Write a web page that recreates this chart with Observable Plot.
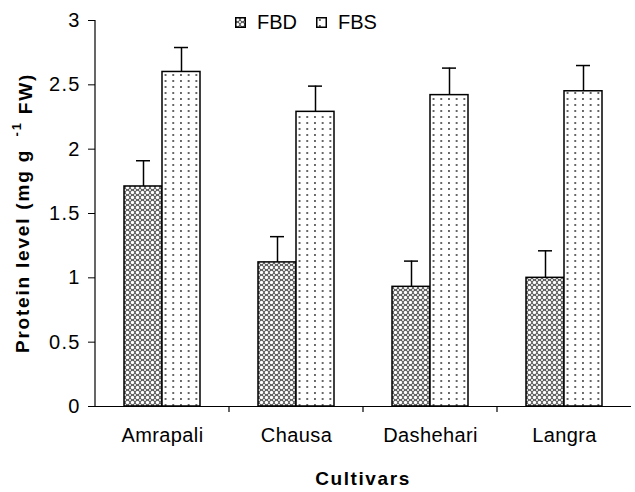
<!DOCTYPE html>
<html><head><meta charset="utf-8">
<script src="https://cdn.jsdelivr.net/npm/d3@7"></script>
<script src="https://cdn.jsdelivr.net/npm/@observablehq/plot@0.6"></script>
<style>
body{margin:0;background:#fff;}
#wrap{position:relative;width:635px;height:492px;font-family:"Liberation Sans",Arial,sans-serif;}
#legend{position:absolute;top:11px;left:235px;display:flex;align-items:center;font-size:20px;color:#000;}
#legend .item{display:flex;align-items:center;margin-right:19px;}
#legend svg{margin-right:11px;}
</style></head><body><div id="wrap"><div id="legend"></div></div>
<script>
const cultivars = ["Amrapali", "Chausa", "Dashehari", "Langra"];
const series = ["FBD", "FBS"];
const fbdValues = [1.71, 1.12, 0.93, 1.00];
const fbsValues = [2.60, 2.29, 2.42, 2.45];
const fbdErrors = [0.20, 0.20, 0.20, 0.21];
const fbsErrors = [0.19, 0.20, 0.21, 0.20];
const yTicks = [0, 0.5, 1, 1.5, 2, 2.5, 3];

const patterns = ["url(#pat-fbd)", "url(#pat-fbs)"];

const data = cultivars.flatMap((c, i) => [
  {cultivar: c, series: "FBD", value: fbdValues[i], err: fbdErrors[i]},
  {cultivar: c, series: "FBS", value: fbsValues[i], err: fbsErrors[i]}
]);

const plot = Plot.plot({
  width: 635, height: 492,
  marginLeft: 95, marginRight: 4, marginTop: 20, marginBottom: 86,
  style: {fontFamily: "Liberation Sans, Arial, sans-serif", color: "#000", background: "#fff", overflow: "visible"},
  fx: {domain: cultivars, padding: 0, label: null},
  x: {domain: series, paddingInner: 0, paddingOuter: 0.74, axis: null},
  y: {domain: [0, 3], label: null, axis: null},
  color: {type: "ordinal", domain: series, range: patterns, legend: false},
  marks: [
    Plot.barY(data, {fx: "cultivar", x: "series", y: "value", fill: "series", stroke: "#000", strokeWidth: 1.5}),
    Plot.ruleX(data, {fx: "cultivar", x: "series", y1: "value", y2: d => d.value + d.err, stroke: "#000", strokeWidth: 1.5}),
    Plot.tickY(data, {fx: "cultivar", x: "series", y: d => d.value + d.err, insetLeft: 12, insetRight: 12, stroke: "#000", strokeWidth: 1.5}),
    Plot.ruleY([0], {stroke: "#000", strokeWidth: 1.2}),
    Plot.axisY({ticks: yTicks, tickFormat: d => String(d), tickSize: 7, tickPadding: 8, fontSize: 20, label: null}),
    Plot.axisFx({anchor: "bottom", tickSize: 0, tickPadding: 21, fontSize: 20, label: null})
  ]
});

const svg = d3.select(plot);
svg.selectAll("[aria-label='y-axis tick label'] text").attr("letter-spacing", "1.2px");
svg.selectAll("[aria-label='fx-axis tick label'] text").attr("letter-spacing", "0.4px");

const defs = svg.insert("defs", ":first-child");
const p1 = defs.append("pattern").attr("id", "pat-fbd").attr("patternUnits", "userSpaceOnUse").attr("width", 5).attr("height", 5);
p1.append("rect").attr("width", 5).attr("height", 5).attr("fill", "#555");
p1.append("circle").attr("cx", 2.5).attr("cy", 2.5).attr("r", 1.7).attr("fill", "#fff");
[[0,0],[5,0],[0,5],[5,5]].forEach(([cx, cy]) => p1.append("circle").attr("cx", cx).attr("cy", cy).attr("r", 1.2).attr("fill", "#e0e0e0"));
const p2 = defs.append("pattern").attr("id", "pat-fbs").attr("patternUnits", "userSpaceOnUse").attr("width", 7.7).attr("height", 6);
p2.append("rect").attr("width", 7.7).attr("height", 6).attr("fill", "#fff");
p2.append("circle").attr("cx", 3.85).attr("cy", 3).attr("r", 0.95).attr("fill", "#333");

const y = plot.scale("y");
const fx = plot.scale("fx");
const y0 = y.apply(0), y3 = y.apply(3);
const left = fx.apply(cultivars[0]);
svg.append("line").attr("x1", left).attr("x2", left).attr("y1", y3).attr("y2", y0).attr("stroke", "#000").attr("stroke-width", 1.2);
cultivars.slice(1).forEach(c => {
  const xx = fx.apply(c);
  svg.append("line").attr("x1", xx).attr("x2", xx).attr("y1", y0).attr("y2", y0 + 6).attr("stroke", "#000").attr("stroke-width", 1.2);
});
const yt = svg.append("text")
  .attr("transform", `translate(24,${(y0 + y3) / 2}) rotate(-90)`)
  .attr("text-anchor", "middle").attr("dominant-baseline", "middle")
  .attr("font-weight", "bold").attr("font-size", 19).attr("letter-spacing", "1.8px").attr("fill", "#000");
yt.append("tspan").text("Protein level (mg g ");
yt.append("tspan").attr("dy", "-0.45em").attr("font-size", 13).text(" -1");
yt.append("tspan").attr("dy", "0.45em").text(" FW)");
const fxRange = fx.range;
svg.append("text")
  .attr("x", (fxRange[0] + fxRange[1]) / 2).attr("y", 480)
  .attr("text-anchor", "middle").attr("dominant-baseline", "middle")
  .attr("font-weight", "bold").attr("font-size", 19).attr("letter-spacing", "1.6px").attr("fill", "#000")
  .text("Cultivars");

document.getElementById("wrap").prepend(plot);
plot.style.position = "absolute"; plot.style.left = "0"; plot.style.top = "0";

const legend = d3.select("#legend");
series.forEach((s, i) => {
  const it = legend.append("div").attr("class", "item");
  const sw = it.append("svg").attr("width", 11).attr("height", 11);
  sw.append("rect").attr("x", 0.75).attr("y", 0.75).attr("width", 9.5).attr("height", 9.5)
    .attr("fill", patterns[i]).attr("stroke", "#000").attr("stroke-width", 1.5);
  it.append("span").text(s);
});
</script>
</body></html>
